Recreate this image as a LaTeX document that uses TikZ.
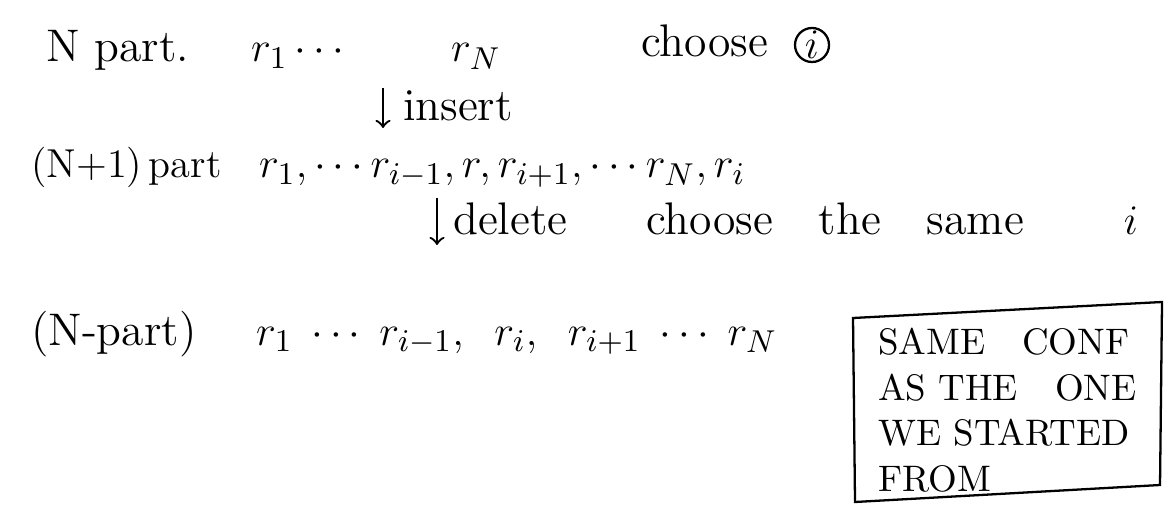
\documentclass[tikz,border=0pt]{standalone}
\begin{document}
\begin{tikzpicture}[x=.1mm,y=-.1mm,line width=.65pt,>=to,
font=\fontsize{13}{15}\selectfont,every node/.style={inner sep=0pt}]
\useasboundingbox (0,0) rectangle (1172,511);
\node[anchor=base west] (npart) at (45,62) {N part.};
\node[anchor=base west] (rone) at (250,62) {$r_1\cdots$};
\node[anchor=base west] (rn) at (450,62) {$r_N$};
\node[anchor=base west] (choose) at (640,57) {choose};
\node[circle,draw,minimum size=3.4mm] (ci) at (812,45) {$i$};
\coordinate (instop) at (383,88);
\coordinate (insbot) at (383,128);
\draw[->] (instop)--(insbot);
\node[anchor=base west] (insert) at (402,121) {insert};
\node[anchor=base west,font=\fontsize{11.5}{14}\selectfont] (nplus) at (30,178) {(N+1)\,part};
\node[anchor=base west] (rowb) at (258,178)
{$r_1,\cdots r_{i-1}, r, r_{i+1},\cdots r_N, r_i$};
\coordinate (deltop) at (437,198);
\coordinate (delbot) at (437,245);
\draw[->] (deltop)--(delbot);
\node[anchor=base west] (delete) at (452,235) {delete};
\node[anchor=base west] (same) at (645,235) {choose\quad the\quad same\hspace*{10mm}$i$};
\node[anchor=base west] (nminus) at (30,345) {(N-part)};
\node[anchor=base west] (rowc) at (255,345)
{$r_1\;\cdots\; r_{i-1},\;\; r_i,\;\; r_{i+1}\;\cdots\; r_N$};
\node[anchor=north west,align=left,font=\fontsize{10.5}{13}\selectfont] (conf) at (877,327)
{SAME\quad CONF\\AS THE\quad ONE\\WE STARTED\\FROM};
\draw (853,318)--(1162,302)--(1160,485)--(855,502)--cycle;
\end{tikzpicture}
\end{document}
